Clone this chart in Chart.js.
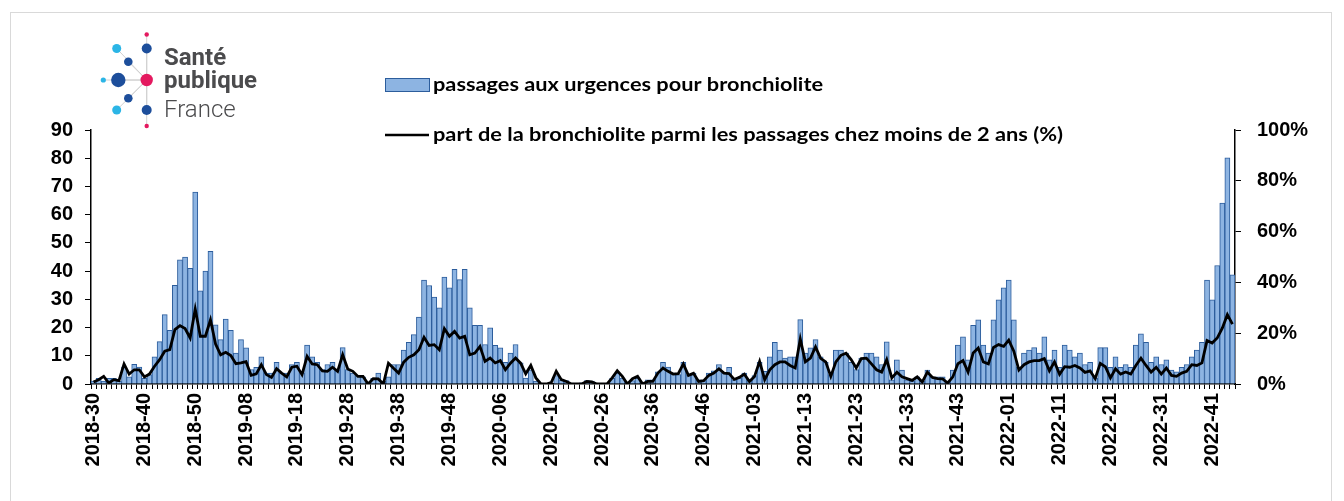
<!DOCTYPE html>
<html>
<head>
<meta charset="utf-8">
<script src="https://cdn.jsdelivr.net/npm/chart.js@4.4.1/dist/chart.umd.min.js"></script>
<style>
  body { margin: 0; background: #fff; }
  #wrap { position: relative; width: 1344px; height: 501px; overflow: hidden; }
  #frame { position: absolute; left: 10px; top: 12px; width: 1320px; height: 520px; border: 1px solid #d9d9d9; }
  canvas { position: absolute; left: 0; top: 0; }
</style>
</head>
<body>
<div id="wrap">
  <div id="frame"></div>
  <canvas id="chart" width="1344" height="501"></canvas>
</div>
<script>
// weeks 2018-30 .. 2022-45
const weeksPerYear = { 2018: 52, 2019: 52, 2020: 53, 2021: 52, 2022: 52 };
const weeks = [];
let yr = 2018, wk = 30;
while (weeks.length < 225) {
  weeks.push(yr + '-' + String(wk).padStart(2, '0'));
  wk++;
  if (wk > weeksPerYear[yr]) { yr++; wk = 1; }
}

// passages aux urgences pour bronchiolite (left axis)
const passages = [
  1, 2, 1, 2, 2, 1,
  6, 2.5, 7, 6, 2, 3.3, 9.6, 15, 24.6, 19, 35, 44, 45, 41, 68, 33, 40, 47, 21, 15.7, 23, 19, 11,
  15.7, 12.8, 5.1, 5.9, 9.6, 3.9, 3.9, 7.7, 3.9, 3.9, 6.9, 7.7, 3.9, 13.8, 9.6, 7.7, 5.1, 6.9, 7.7, 5.1, 12.9, 5.1, 3.9, 3, 2.5, 0.4, 2, 3.9,
  1, 2.5, 6.9, 6.9, 12, 14.8, 17.5, 23.7, 36.8, 34.9, 30.8, 27, 37.9, 34.1, 40.6, 37, 40.6, 27, 20.8, 20.8, 14, 19.9, 13.7, 12.8, 7.7, 11, 14, 7.5, 2.1,
  5, 1, 0, 0, 0, 3, 1.5, 1.2, 0.3, 0, 0.4, 1.2, 1, 0.2, 0, 0, 2, 3.9, 2.1, 0.4, 1.2, 2.1, 0.7, 1.5, 1.5, 4.3, 7.7,
  6, 3.9, 3.3, 7.7, 3.3, 3.9, 1.5, 1.2, 3.9, 4.7, 6.9, 3.9, 5.9, 1.5, 2.1, 3.9, 1.5, 3, 7.7, 4.5, 9.6, 14.8, 12, 9.2, 9.6, 9.6, 22.8, 11, 12.8, 15.7,
  9.6, 7.7, 3.3, 12, 12, 11, 7.7, 5.1, 9.2, 11, 11, 9.6, 6.9, 14.9, 1.5, 8.6, 4.9, 1.5, 1, 2.5, 1, 4.9, 2.4, 2.5, 2.5, 1, 4.9, 13.8,
  16.7, 8.6, 20.8, 22.7, 13.8, 11, 22.7, 29.8, 34.1, 36.8, 22.7, 6, 11, 12, 12.9, 11, 16.7, 8.6, 12, 5.9, 13.8, 12, 9.6, 11, 6.9, 7.7, 2.1, 12.9, 12.9,
  5.9, 9.6, 5.9, 6.9, 5.9, 13.8, 17.8, 14.8, 7.7, 9.6, 6.9, 8.6, 4.9, 4.3, 5.9, 6.9, 9.6, 12, 14.8, 36.8, 29.8, 42, 64.1, 80.1, 38.7
];

// part de la bronchiolite chez moins de 2 ans, % (right axis)
const partPct = [
  0.8, 1.7, 3, 0.4, 1.7, 1.3,
  7.9, 3.9, 5.6, 5.6, 2.8, 3.9, 7, 9.6, 12.9, 13.5, 21.4, 23, 21.8, 18.1, 29.5, 18.8, 18.8, 25.3, 15.7, 11.5, 12.5, 11.2, 8,
  8.3, 8.8, 3.4, 4, 7.6, 3.7, 2.6, 6, 4.3, 2.8, 6.6, 7, 3.7, 10.9, 7.9, 7.6, 5.2, 5, 6.6, 5, 11.5, 5.9, 5, 3, 3, 0, 2.1, 2,
  0, 8.2, 6.2, 4.3, 8.6, 10.5, 11.5, 13.5, 18.4, 15.2, 15.5, 13.5, 21.8, 18.8, 20.7, 18.1, 18.8, 11.5, 12.2, 14.8, 8.9, 10.2, 8.3, 9.2, 5.6, 8.2, 10.2, 8.2, 4,
  7.3, 2.4, 0, 0, 0.5, 5, 1.7, 1, 0, 0, 0, 1, 0.8, 0, 0, 0, 2.4, 5.2, 3, 0, 2.1, 3, 0, 1, 1, 4.3, 6.3,
  5, 3.9, 4.1, 7.9, 3.4, 4.2, 1, 1.3, 3.4, 4.3, 6, 4.3, 4.1, 1.8, 2.6, 3.9, 1, 3, 8.9, 1.7, 5.6, 7.6, 8.7, 8.7, 7.3, 6.3, 17.7, 8.7, 10.2, 14.6,
  10.1, 8.7, 3, 8.7, 11.3, 12.1, 9.6, 6.3, 10, 10.2, 7.9, 5.6, 4.7, 9.6, 2.4, 4.6, 2.8, 2.1, 1.4, 2.8, 0.8, 4.7, 2.6, 2.1, 2, 0.4, 2.8, 8,
  9.2, 4.7, 12.2, 14.2, 8.7, 7.9, 14.4, 15.5, 14.8, 17.3, 12.9, 5.5, 7.6, 8.7, 9.2, 9.2, 10, 5.2, 8.7, 3.8, 6.8, 6.6, 7.3, 6.3, 4.6, 5.2, 2.1, 8.1, 6.8,
  2.4, 6, 3.9, 4.7, 3.9, 7.3, 10.2, 7.3, 4.7, 6.6, 3.9, 6.3, 3.4, 3, 4.3, 5, 7.6, 7.3, 8.3, 17.1, 16.1, 18.1, 22, 27.3, 23.6
];

const leftTicks = [0, 10, 20, 30, 40, 50, 60, 70, 80, 90];
const rightTicks = [0, 20, 40, 60, 80, 100];

const barFill = '#8db4e2';
const barEdge = '#2c5d9c';
const tickFont = { family: 'Liberation Sans', weight: 'bold', size: 20 };

// logo + legend drawn on top of the chart
const overlay = {
  id: 'overlay',
  afterDraw(chart) {
    const ctx = chart.ctx;
    ctx.save();

    // logo
    const dark = '#1d4e9b', pink = '#e4195f', light = '#2bb5e6';
    const hub = [146.7, 80];
    const dots = [
      [146.7, 34.5, 2.2, pink], [146.7, 48.5, 5, dark], [116.7, 48.5, 4.5, light],
      [128.3, 61.7, 4.3, dark], [118.3, 80, 7.2, dark], [103.3, 80, 2.6, light],
      [128.3, 98.3, 4.3, dark], [116.7, 110, 4.5, light], [146.7, 110, 5, dark],
      [146.7, 126, 2.2, pink]
    ];
    ctx.strokeStyle = '#d0d0d0';
    ctx.lineWidth = 1;
    dots.forEach(d => {
      ctx.beginPath(); ctx.moveTo(hub[0], hub[1]); ctx.lineTo(d[0], d[1]); ctx.stroke();
    });
    dots.forEach(d => {
      ctx.beginPath(); ctx.arc(d[0], d[1], d[2], 0, Math.PI * 2);
      ctx.fillStyle = d[3]; ctx.fill();
    });
    ctx.beginPath(); ctx.arc(hub[0], hub[1], 6.2, 0, Math.PI * 2);
    ctx.fillStyle = pink; ctx.fill();

    ctx.fillStyle = '#4b4b4d';
    ctx.textBaseline = 'alphabetic';
    ctx.textAlign = 'left';
    ctx.font = 'bold 24px Roboto';
    ctx.fillText('Santé', 164, 65);
    ctx.fillText('publique', 164, 88);
    ctx.font = '300 24px Roboto';
    ctx.fillText('France', 164, 117);

    // legend
    ctx.fillStyle = barFill;
    ctx.fillRect(385.5, 78.5, 44, 13);
    ctx.strokeStyle = barEdge;
    ctx.lineWidth = 1;
    ctx.strokeRect(385.5, 78.5, 44, 13);
    ctx.beginPath();
    ctx.moveTo(385, 135); ctx.lineTo(429, 135);
    ctx.strokeStyle = '#000'; ctx.lineWidth = 2.5; ctx.stroke();

    const items = [
      ['passages aux urgences pour bronchiolite', 85, 390],
      ['part de la bronchiolite parmi les passages chez moins de 2 ans (%)', 135, 630]
    ];
    ctx.fillStyle = '#000';
    ctx.font = 'bold 18px Lato';
    ctx.textBaseline = 'middle';
    items.forEach(([txt, y, w]) => {
      const m = ctx.measureText(txt).width;
      ctx.save();
      ctx.translate(433, y);
      ctx.scale(w / m, 1);
      ctx.fillText(txt, 0, 0);
      ctx.restore();
    });
    ctx.restore();
  }
};

new Chart(document.getElementById('chart'), {
  type: 'bar',
  data: {
    labels: weeks,
    datasets: [
      {
        type: 'line',
        label: 'part de la bronchiolite parmi les passages chez moins de 2 ans (%)',
        data: partPct,
        yAxisID: 'y2',
        borderColor: '#000',
        borderWidth: 2.8,
        pointRadius: 0,
        tension: 0,
        order: 0
      },
      {
        label: 'passages aux urgences pour bronchiolite',
        data: passages,
        yAxisID: 'y',
        backgroundColor: barFill,
        borderColor: barEdge,
        borderWidth: 1,
        barPercentage: 1,
        categoryPercentage: 1,
        order: 1
      }
    ]
  },
  options: {
    responsive: false,
    animation: false,
    layout: { padding: { top: 130, left: 0, right: 0, bottom: 0 } },
    plugins: { legend: { display: false }, tooltip: { enabled: false } },
    scales: {
      x: {
        grid: { display: true, drawOnChartArea: false, color: '#000', tickLength: 5, tickWidth: 1 },
        border: { display: true, color: '#000', width: 1.5 },
        ticks: {
          autoSkip: false, minRotation: 90, maxRotation: 90, padding: 4,
          color: '#000', font: tickFont,
          callback: (v, i) => (i % 10 === 0 ? weeks[i] : '')
        },
        afterFit: s => { s.height = 117; }
      },
      y: {
        position: 'left',
        min: 0, max: 90,
        afterBuildTicks: s => { s.ticks = leftTicks.map(v => ({ value: v })); },
        grid: { display: true, drawOnChartArea: false, color: '#000', tickLength: 6 },
        border: { display: true, color: '#000', width: 1.5 },
        ticks: { color: '#000', font: tickFont, padding: 12 },
        afterFit: s => { s.width = 91; }
      },
      y2: {
        position: 'right',
        min: 0, max: 100,
        afterBuildTicks: s => { s.ticks = rightTicks.map(v => ({ value: v })); },
        grid: { display: true, drawOnChartArea: false, color: '#000', tickLength: 6 },
        border: { display: true, color: '#000', width: 1.5 },
        ticks: { color: '#000', font: tickFont, padding: 16, callback: v => v + '%' },
        afterFit: s => { s.width = 109; }
      }
    }
  },
  plugins: [overlay]
});
</script>
</body>
</html>
